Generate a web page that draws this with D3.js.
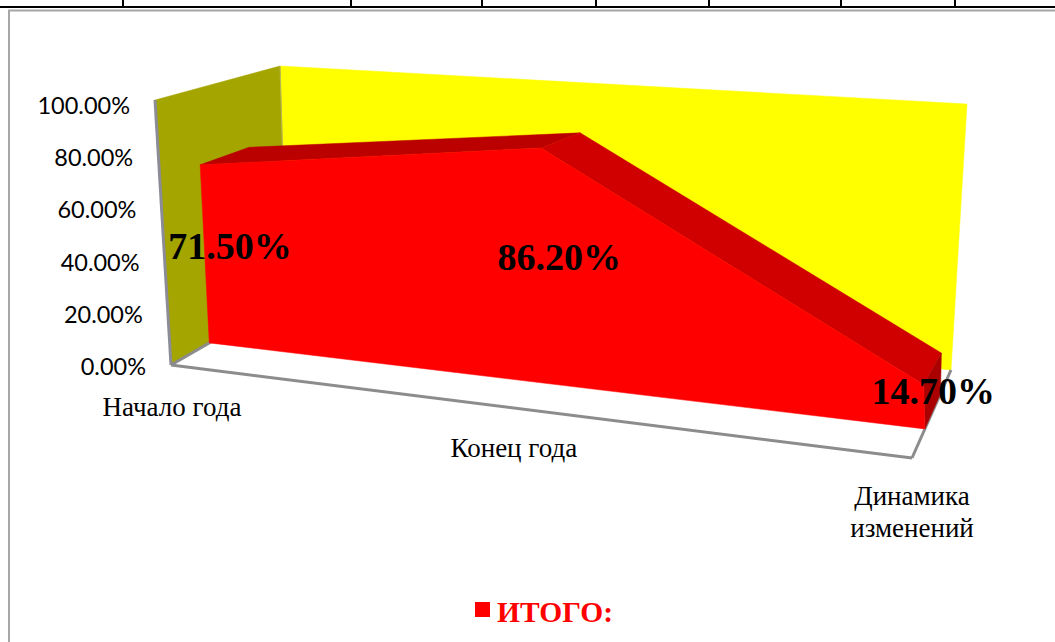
<!DOCTYPE html>
<html>
<head>
<meta charset="utf-8">
<script src="https://d3js.org/d3.v7.min.js"></script>
<style>
html, body { margin: 0; padding: 0; background: #fff; overflow: hidden; }
svg { display: block; }
</style>
</head>
<body>
<div id="chart"></div>
<script>
// data
var categories = ["Начало года", "Конец года", "Динамика изменений"];
var values = [0.715, 0.862, 0.147];
var valueTicks = [0, 0.2, 0.4, 0.6, 0.8, 1];
var seriesName = "ИТОГО:";
var tableTicks = [123, 351, 482, 596, 709, 841, 955];

var width = 1055, height = 642;

// the box of the 3d chart on screen: f = front, b = back, l/r = left/right, 0/1 = value
var box = {
	fl0: [171, 365], fr0: [912, 458], bl0: [287, 298], br0: [951, 370],
	fl1: [155, 100], fr1: [892, 131], bl1: [280, 66],  br1: [967, 104]
};
var seriesDepth = [0.33, 0.73];

var catScale = d3.scalePoint().domain(d3.range(categories.length)).range([0, 1]);
var valueScale = d3.scaleLinear().domain([0, 1]).range([0, 1]);
var seriesScale = d3.scaleLinear().domain([0, 1]).range([0, 0.98]); // area sits a bit under the wall top
var depthScale = d3.scaleLinear().domain([0, 1]).range([0, 1]);
var k = 1.1; // foreshortening along the category axis

function lerp(a, b, t) {
	return [a[0] + (b[0] - a[0]) * t, a[1] + (b[1] - a[1]) * t];
}

function project(i, v, d) {
	var t = catScale(i);
	var s = t / (t + k * (1 - t));
	var dd = depthScale(d);
	var low = lerp(lerp(box.fl0, box.fr0, s), lerp(box.bl0, box.br0, s), dd);
	var high = lerp(lerp(box.fl1, box.fr1, s), lerp(box.bl1, box.br1, s), dd);
	return lerp(low, high, v);
}

var svg = d3.select("#chart").append("svg")
	.attr("width", width)
	.attr("height", height);

var line = d3.line();
function face(points, fill) {
	svg.append("path")
		.attr("d", line(points) + "Z")
		.attr("fill", fill)
		.attr("stroke", fill)
		.attr("stroke-width", 0.5);
}
function edge(a, b, color, w) {
	svg.append("line")
		.attr("x1", a[0]).attr("y1", a[1])
		.attr("x2", b[0]).attr("y2", b[1])
		.attr("stroke", color)
		.attr("stroke-width", w);
}

// table line above the chart
edge([0, 7], [width, 7], "#000", 2);
tableTicks.forEach(function(x) {
	edge([x, 0], [x, 7], "#000", 2);
});

// chart frame
svg.append("path")
	.attr("d", "M9," + height + "V10.5H" + width)
	.attr("fill", "none")
	.attr("stroke", "#a6a6a6")
	.attr("stroke-width", 2);

// walls and floor
face([box.fl0, box.fr0, box.br0, box.bl0], "#ffffff");
face([box.bl0, box.br0, box.br1, box.bl1], "#ffff00");
face([box.fl0, box.bl0, box.bl1, box.fl1], "#a5a500");
edge(box.bl0, box.bl1, "#b5b560", 1);
edge(box.fl0, box.fl1, "#8c8c96", 3);
edge(box.fl0, box.fr0, "#8c8c8c", 3);
edge(box.fr0, box.br0, "#8c8c8c", 3);
edge(box.fl0, box.bl0, "#8c8c8c", 3);

// area series: top faces, end cap, front
var d1 = seriesDepth[0], d2 = seriesDepth[1];
var topFill = ["#bb0000", "#d00000"];
for (var i = 0; i < values.length - 1; i++) {
	face([
		project(i, seriesScale(values[i]), d1),
		project(i + 1, seriesScale(values[i + 1]), d1),
		project(i + 1, seriesScale(values[i + 1]), d2),
		project(i, seriesScale(values[i]), d2)
	], topFill[i]);
}
var last = values.length - 1;
face([
	project(last, seriesScale(values[last]), d1),
	project(last, seriesScale(values[last]), d2),
	project(last, 0, d2),
	project(last, 0, d1)
], "#aa0000");

var front = values.map(function(v, i) { return project(i, seriesScale(v), d1); });
front.push(project(last, 0, d1));
front.push(project(0, 0, d1));
face(front, "#ff0000");

// value axis labels
svg.selectAll(".tick-label")
	.data(valueTicks)
	.enter()
	.append("text")
	.attr("class", "tick-label")
	.attr("x", function(d) { return project(0, valueScale(d), 0)[0] - 25; })
	.attr("y", function(d) { return project(0, valueScale(d), 0)[1] + 10 + 4 * d; })
	.attr("text-anchor", "end")
	.attr("font-family", "Lato, sans-serif")
	.attr("font-size", 23.5)
	.attr("fill", "#000")
	.text(d3.format(".2%"));

// category labels
var catDx = [1, -10, 0];
var catDy = [3, 0, -1];
categories.forEach(function(c, i) {
	var p = project(i, 0, 0);
	var words = i == last ? c.split(" ") : [c];
	var label = svg.append("text")
		.attr("text-anchor", "middle")
		.attr("font-family", "'Liberation Serif', serif")
		.attr("font-size", 27)
		.attr("fill", "#000");
	words.forEach(function(w, j) {
		label.append("tspan")
			.attr("x", p[0] + catDx[i])
			.attr("y", p[1] + 48 + catDy[i] + j * 32)
			.text(w);
	});
});

// data labels
var labelDx = [11, 3, 4];
var labelDy = [-1, -2, -6];
svg.selectAll(".data-label")
	.data(values)
	.enter()
	.append("text")
	.attr("class", "data-label")
	.attr("x", function(d, i) { return project(i, seriesScale(d) / 2, 0.45)[0] + labelDx[i]; })
	.attr("y", function(d, i) { return project(i, seriesScale(d) / 2, 0.45)[1] + 13 + labelDy[i]; })
	.attr("text-anchor", "middle")
	.attr("font-family", "'Liberation Serif', serif")
	.attr("font-weight", "bold")
	.attr("font-size", 38)
	.attr("fill", "#000")
	.text(d3.format(".2%"));

// legend
svg.append("rect")
	.attr("x", 475).attr("y", 602)
	.attr("width", 15).attr("height", 15)
	.attr("fill", "#ff0000");
svg.append("text")
	.attr("x", 497).attr("y", 622)
	.attr("font-family", "'Liberation Serif', serif")
	.attr("font-weight", "bold")
	.attr("font-size", 29.5)
	.attr("fill", "#ff0000")
	.text(seriesName);
</script>
</body>
</html>
